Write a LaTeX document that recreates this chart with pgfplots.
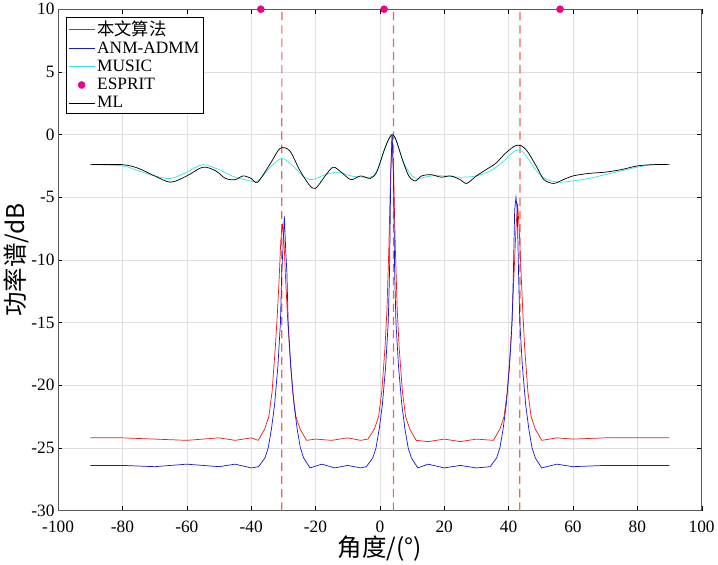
\documentclass[border=0pt]{standalone}
\usepackage{pgfplots}
\pgfplotsset{compat=1.18}
\usepackage{fontspec}
\setmainfont{Liberation Serif}
\newfontfamily\cjk{Noto Sans CJK SC}
\definecolor{mred}{rgb}{0.95,0.1,0.1}
\definecolor{mblue}{rgb}{0.1,0.1,0.85}
\definecolor{mcyan}{rgb}{0.2,0.9,0.9}
\definecolor{dashred}{rgb}{0.92,0.4,0.35}
\begin{document}
\begin{tikzpicture}
\begin{axis}[scale only axis, width=629bp, height=490bp,
 xmin=-100,xmax=100,ymin=-30,ymax=10,
 xtick={-100,-80,...,100}, ytick={-30,-25,...,10},
 grid=major, grid style={gray!25},
 tick align=inside, tick style={black}, axis line style={gray!70!black},
 /pgf/number format/assume math mode=true,
 ticklabel style={font=\fontsize{17}{17}\selectfont},
 xticklabel style={yshift=-7pt},
 xlabel={\cjk 角度/(°)}, ylabel={\cjk 功率谱/dB},
 label style={font=\fontsize{24}{24}\selectfont},
 xlabel style={yshift=4pt}, ylabel style={yshift=-4pt},
 clip mode=individual,
 legend style={at={(0.012,0.985)},anchor=north west,font=\fontsize{17}{17}\selectfont,draw=black,inner sep=2pt,row sep=1pt},
 legend cell align=left,
 legend image code/.code={\draw[#1, line width=1.0pt] (0cm,0cm) -- (0.9cm,0cm);},
]
\addplot[dashred, line width=1.2pt, dash pattern=on 8pt off 5pt, forget plot] table {
x y
-30.5 -30
-30.45 10
};
\addplot[dashred, line width=1.2pt, dash pattern=on 8pt off 5pt, forget plot] table {
x y
4.2 -30
4.25 10
};
\addplot[dashred, line width=1.2pt, dash pattern=on 8pt off 5pt, forget plot] table {
x y
43.5 -30
43.55 10
};
\addplot[color=mred, no marks, line width=0.7pt] coordinates {(-90,-24.2)(-80,-24.2)(-70,-24.3)(-60,-24.4)(-50,-24.2)(-45,-24.4)(-40,-24.2)(-37.8,-24.4)
(-35.8,-23.5)(-34.5,-22.5)(-33.5,-20.5)(-32.5,-17)(-31.9,-14.5)(-31.3,-11.5)(-30.8,-8.5)(-30.3,-7.1)(-29.8,-8.5)(-29.3,-11.5)(-28.7,-14.5)(-28.1,-17)(-27.1,-20.5)(-26.1,-22.5)(-24.8,-23.5)(-22.8,-24.4)
(-20,-24.3)(-15,-24.4)(-10,-24.2)(-6,-24.4)(-3.7,-24.3)(-1.7,-23.5)(-0.4,-22.5)(0.6,-20.5)(1.6,-17)(2.2,-14)(2.8,-9)(3.3,-3.5)(3.8,0)(4.3,-3.5)(4.8,-9)(5.4,-14)(6.0,-17)(7.0,-20.5)(8.0,-22.5)(9.3,-23.5)(11.3,-24.4)
(15,-24.5)(20,-24.3)(25,-24.5)(30,-24.3)(35.3,-24.4)(37.3,-23.5)(38.6,-22.5)(39.6,-20.5)(40.6,-17)(41.2,-14)(41.8,-10.5)(42.3,-7.5)(42.8,-5.5)(43.3,-7.5)(43.8,-10.5)(44.4,-14)(45.0,-17)(46.0,-20.5)(47.0,-22.5)(48.3,-23.5)(50.3,-24.4)
(55,-24.2)(60,-24.3)(70,-24.2)(80,-24.2)(90,-24.2)};
\addlegendentry{\cjk 本文算法}
\addplot[color=mblue, no marks, line width=0.7pt] coordinates {(-90,-26.4)(-80,-26.4)(-70,-26.5)(-60,-26.3)(-50,-26.5)(-45,-26.3)(-40,-26.6)(-37.7,-26.5)
(-35.7,-25.8)(-34.7,-25)(-33.7,-23.5)(-32.7,-21.5)(-31.7,-18.5)(-30.9,-15)(-30.5,-11)(-30.1,-9)(-29.7,-6.5)(-29.3,-9)(-28.9,-11)(-28.5,-15)(-27.7,-18.5)(-26.7,-21.5)(-25.7,-23.5)(-24.7,-25)(-23.7,-25.8)(-21.7,-26.6)
(-18,-26.3)(-14,-26.6)(-10,-26.4)(-6,-26.6)(-4.2,-26.5)(-2.2,-25.8)(-1.2,-25)(-0.2,-23.5)(0.8,-21.5)(1.8,-18.5)(2.6,-15)(3,-11)(3.4,-3)(3.8,0)(4.2,-3)(4.6,-11)(5,-15)(5.8,-18.5)(6.8,-21.5)(7.8,-23.5)(8.8,-25)(9.8,-25.8)(11.8,-26.6)
(15,-26.3)(20,-26.6)(25,-26.4)(30,-26.6)(34.3,-26.5)(36.3,-25.8)(37.3,-25)(38.3,-23.5)(39.3,-21.5)(40.3,-18.5)(41.1,-15)(41.5,-11)(41.9,-6)(42.3,-5.0)(42.7,-6)(43.1,-11)(43.5,-15)(44.3,-18.5)(45.3,-21.5)(46.3,-23.5)(47.3,-25)(48.3,-25.8)(50.3,-26.6)
(55,-26.3)(60,-26.5)(70,-26.4)(80,-26.4)(90,-26.4)};
\addlegendentry{ANM-ADMM}
\addplot[color=mcyan, no marks, line width=0.7pt, smooth] coordinates {(-90,-2.4)(-80,-2.5)(-75,-2.9)(-70,-3.3)(-65,-3.5)(-60,-3.0)(-55,-2.4)(-50,-2.8)(-46,-3.3)(-42,-3.6)(-38,-3.7)(-34,-2.6)(-30.5,-1.9)(-27,-2.5)(-24,-3.3)(-21,-3.6)(-17,-3.2)(-13,-3.0)(-9,-3.3)(-5,-3.4)(-2,-3.3)(0,-2.3)(2,-0.8)(3.8,0)(5.5,-0.8)(7.5,-2.3)(10,-3.3)(12,-3.5)(16,-3.3)(20,-3.3)(25,-3.4)(30,-3.3)(35,-2.8)(39,-2.0)(42,-1.3)(44,-1.3)(46,-1.9)(49,-3.0)(52,-3.6)(56,-3.8)(60,-3.7)(65,-3.5)(70,-3.2)(75,-2.9)(80,-2.6)(85,-2.4)(90,-2.4)};
\addlegendentry{MUSIC}
\addplot[only marks, mark=*, mark size=3.5pt, color=magenta, legend image code/.code={\fill[magenta] (0.45cm,0cm) circle (3.5pt);}] coordinates {(-37,10)(1.3,10)(56,10)};
\addlegendentry{ESPRIT}
\addplot[color=black, no marks, line width=0.7pt, smooth] coordinates {(-90,-2.4)(-80,-2.4)(-75,-2.7)(-70,-3.3)(-65,-3.8)(-60,-3.3)(-55,-2.6)(-51,-2.9)(-48,-3.5)(-45,-3.6)(-42.5,-3.3)(-40,-3.5)(-38,-3.8)(-34,-2.3)(-31,-1.1)(-28,-1.3)(-25,-2.8)(-22,-4.0)(-20,-4.3)(-17,-3.3)(-14.5,-2.6)(-12,-3.0)(-9,-3.6)(-6,-3.3)(-3,-3.5)(-1,-3.0)(1,-1.5)(2.5,-0.5)(3.8,0)(5,-0.4)(7,-2.0)(9,-3.3)(11,-3.7)(13,-3.3)(16,-3.2)(19,-3.4)(22,-3.3)(25,-3.6)(27,-3.9)(30,-3.3)(33,-2.8)(36,-2.3)(39,-1.5)(42,-0.9)(44,-0.9)(46,-1.4)(49,-2.7)(51,-3.6)(54,-3.9)(57,-3.6)(60,-3.3)(65,-3.1)(70,-3.0)(75,-2.8)(80,-2.5)(85,-2.4)(90,-2.4)};
\addlegendentry{ML}
\end{axis}
\end{tikzpicture}
\end{document}
